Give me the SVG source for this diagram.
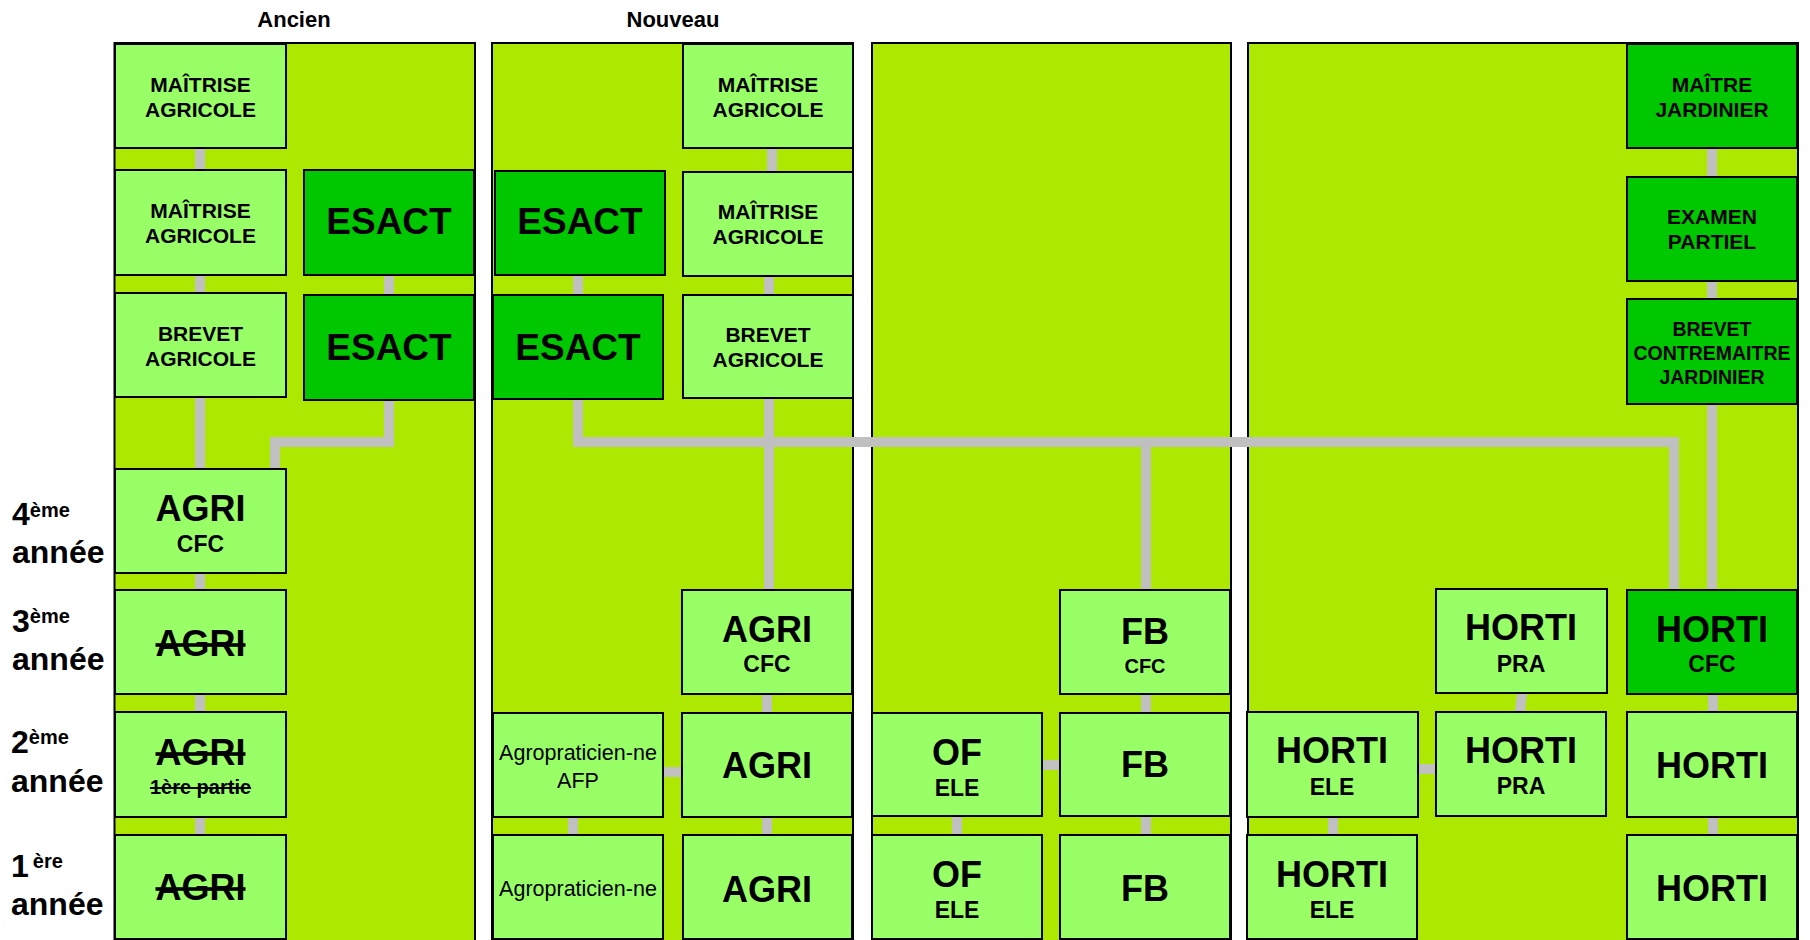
<svg xmlns="http://www.w3.org/2000/svg" width="1810" height="940" viewBox="0 0 1810 940">
<defs>
<style>
.panel{fill:#ADE800;stroke:#000;stroke-width:2}
.lt{fill:#99FF66;stroke:#000;stroke-width:2}
.dk{fill:#00C800;stroke:#000;stroke-width:2}
.c{fill:none;stroke:#C0C0C0;stroke-width:10;stroke-linecap:butt;stroke-linejoin:miter}
text{font-family:"Liberation Sans",Arial,Helvetica,sans-serif;font-weight:bold;fill:#000;text-anchor:middle}
.t21{font-size:21px}
.t20{font-size:19.5px}
.big{font-size:36px}
.es{font-size:37px}
.sub{font-size:23px}
.sub2{font-size:20px}
.reg{font-weight:normal;font-size:21.5px}
.st{text-decoration:line-through;text-decoration-thickness:3.5px}
.st2{text-decoration:line-through;text-decoration-thickness:2px}
.yr{font-size:32px;text-anchor:start}
.sup{font-size:20px;text-anchor:start}
.title{font-size:22px}
</style>
</defs>
<rect width="1810" height="940" fill="#fff"/>
<g id="titles">
<text class="title" x="294" y="27">Ancien</text>
<text class="title" x="673" y="27">Nouveau</text>
</g>
<g id="years">
<text class="yr" x="12" y="525">4<tspan class="sup" dy="-8">ème</tspan></text>
<text class="yr" x="12" y="563">année</text>
<text class="yr" x="12" y="632">3<tspan class="sup" dy="-9">ème</tspan></text>
<text class="yr" x="12" y="670">année</text>
<text class="yr" x="11" y="753">2<tspan class="sup" dy="-9">ème</tspan></text>
<text class="yr" x="11" y="792">année</text>
<text class="yr" x="11" y="877">1<tspan class="sup" dx="4" dy="-9">ère</tspan></text>
<text class="yr" x="11" y="915">année</text>
</g>
<g id="panels">
<rect class="panel" x="114.5" y="43" width="360.5" height="910"/>
<rect class="panel" x="492" y="43" width="361" height="910"/>
<rect class="panel" x="872" y="43" width="359" height="910"/>
<rect class="panel" x="1248" y="43" width="550" height="910"/>
</g>
<g id="connectors">
<path class="c" d="M200,148V170M200,275V293M200,397V469M200,573V590M200,694V712M200,817V835"/>
<path class="c" d="M389,275V295M389,400V442H275V469"/>
<path class="c" d="M772,148V172M769,276V295M769,398V590M767,694V713M767,817V835"/>
<path class="c" d="M578,275V295M663,772H682M573,817V835"/>
<path class="c" d="M578,399V442H1674V590"/>
<path class="c" d="M1146,442V590M1146,694V713M1146,816V835M957,816V835M1042,765H1060"/>
<path class="c" d="M1712,148V177M1712,281V299M1712,404V590M1713,694V712M1713,817V835"/>
<path class="c" d="M1333,817V835M1418,769H1436M1522,693L1520,712"/>
</g>
<g id="n-ancien-maitrise1"><rect class="lt" x="115" y="44" width="171" height="104"/><text class="t21" x="200.5" y="92">MAÎTRISE</text><text class="t21" x="200.5" y="117">AGRICOLE</text></g>
<g id="n-ancien-maitrise2"><rect class="lt" x="115" y="170" width="171" height="105"/><text class="t21" x="200.5" y="218">MAÎTRISE</text><text class="t21" x="200.5" y="243">AGRICOLE</text></g>
<g id="n-ancien-esact1"><rect class="dk" x="304" y="170" width="170" height="105"/><text class="es" x="389" y="234">ESACT</text></g>
<g id="n-ancien-brevet"><rect class="lt" x="115" y="293" width="171" height="104"/><text class="t21" x="200.5" y="341">BREVET</text><text class="t21" x="200.5" y="366">AGRICOLE</text></g>
<g id="n-ancien-esact2"><rect class="dk" x="304" y="295" width="170" height="105"/><text class="es" x="389" y="360">ESACT</text></g>
<g id="n-ancien-agricfc"><rect class="lt" x="115" y="469" width="171" height="104"/><text class="big" x="200.5" y="521">AGRI</text><text class="sub" x="200.5" y="552">CFC</text></g>
<g id="n-ancien-agri3"><rect class="lt" x="115" y="590" width="171" height="104"/><text class="big st" x="200.5" y="656">AGRI</text></g>
<g id="n-ancien-agri2"><rect class="lt" x="115" y="712" width="171" height="105"/><text class="big st" x="200.5" y="765">AGRI</text><text class="sub2 st2" x="200.5" y="794">1ère partie</text></g>
<g id="n-ancien-agri1"><rect class="lt" x="115" y="835" width="171" height="104"/><text class="big st" x="200.5" y="900">AGRI</text></g>
<g id="n-nouv-maitrise1"><rect class="lt" x="683" y="44" width="170" height="104"/><text class="t21" x="768" y="92">MAÎTRISE</text><text class="t21" x="768" y="117">AGRICOLE</text></g>
<g id="n-nouv-esact1"><rect class="dk" x="495" y="171" width="170" height="104"/><text class="es" x="580" y="234">ESACT</text></g>
<g id="n-nouv-maitrise2"><rect class="lt" x="683" y="172" width="170" height="104"/><text class="t21" x="768" y="219">MAÎTRISE</text><text class="t21" x="768" y="244">AGRICOLE</text></g>
<g id="n-nouv-esact2"><rect class="dk" x="493" y="295" width="170" height="104"/><text class="es" x="578" y="360">ESACT</text></g>
<g id="n-nouv-brevet"><rect class="lt" x="683" y="295" width="170" height="103"/><text class="t21" x="768" y="342">BREVET</text><text class="t21" x="768" y="367">AGRICOLE</text></g>
<g id="n-nouv-agricfc"><rect class="lt" x="682" y="590" width="170" height="104"/><text class="big" x="767" y="642">AGRI</text><text class="sub" x="767" y="672">CFC</text></g>
<g id="n-nouv-afp"><rect class="lt" x="493" y="713" width="170" height="104"/><text class="reg" x="578" y="760">Agropraticien-ne</text><text class="reg" x="578" y="788">AFP</text></g>
<g id="n-nouv-agri2"><rect class="lt" x="682" y="713" width="170" height="104"/><text class="big" x="767" y="778">AGRI</text></g>
<g id="n-nouv-agro1"><rect class="lt" x="493" y="835" width="170" height="104"/><text class="reg" x="578" y="896">Agropraticien-ne</text></g>
<g id="n-nouv-agri1"><rect class="lt" x="683" y="835" width="169" height="104"/><text class="big" x="767" y="902">AGRI</text></g>
<g id="n-fb-cfc"><rect class="lt" x="1060" y="590" width="170" height="104"/><text class="big" x="1145" y="644">FB</text><text class="sub2" x="1145" y="673">CFC</text></g>
<g id="n-of-ele2"><rect class="lt" x="872" y="713" width="170" height="103"/><text class="big" x="957" y="765">OF</text><text class="sub" x="957" y="796">ELE</text></g>
<g id="n-fb2"><rect class="lt" x="1060" y="713" width="170" height="103"/><text class="big" x="1145" y="777">FB</text></g>
<g id="n-of-ele1"><rect class="lt" x="872" y="835" width="170" height="104"/><text class="big" x="957" y="887">OF</text><text class="sub" x="957" y="918">ELE</text></g>
<g id="n-fb1"><rect class="lt" x="1060" y="835" width="170" height="104"/><text class="big" x="1145" y="901">FB</text></g>
<g id="n-maitre-jardinier"><rect class="dk" x="1627" y="44" width="170" height="104"/><text class="t21" x="1712" y="92">MAÎTRE</text><text class="t21" x="1712" y="117">JARDINIER</text></g>
<g id="n-examen-partiel"><rect class="dk" x="1627" y="177" width="170" height="104"/><text class="t21" x="1712" y="224">EXAMEN</text><text class="t21" x="1712" y="249">PARTIEL</text></g>
<g id="n-brevet-contremaitre"><rect class="dk" x="1627" y="299" width="170" height="105"/><text class="t20" x="1712" y="336">BREVET</text><text class="t20" x="1712" y="360">CONTREMAITRE</text><text class="t20" x="1712" y="384">JARDINIER</text></g>
<g id="n-horti-pra3"><rect class="lt" x="1436" y="589" width="171" height="104"/><text class="big" x="1521" y="640">HORTI</text><text class="sub" x="1521" y="672">PRA</text></g>
<g id="n-horti-cfc"><rect class="dk" x="1627" y="590" width="170" height="104"/><text class="big" x="1712" y="642">HORTI</text><text class="sub" x="1712" y="672">CFC</text></g>
<g id="n-horti-ele2"><rect class="lt" x="1247" y="712" width="171" height="105"/><text class="big" x="1332" y="763">HORTI</text><text class="sub" x="1332" y="795">ELE</text></g>
<g id="n-horti-pra2"><rect class="lt" x="1436" y="712" width="170" height="104"/><text class="big" x="1521" y="763">HORTI</text><text class="sub" x="1521" y="794">PRA</text></g>
<g id="n-horti2"><rect class="lt" x="1627" y="712" width="170" height="105"/><text class="big" x="1712" y="778">HORTI</text></g>
<g id="n-horti-ele1"><rect class="lt" x="1247" y="835" width="170" height="104"/><text class="big" x="1332" y="887">HORTI</text><text class="sub" x="1332" y="918">ELE</text></g>
<g id="n-horti1"><rect class="lt" x="1627" y="835" width="170" height="104"/><text class="big" x="1712" y="901">HORTI</text></g>
</svg>
